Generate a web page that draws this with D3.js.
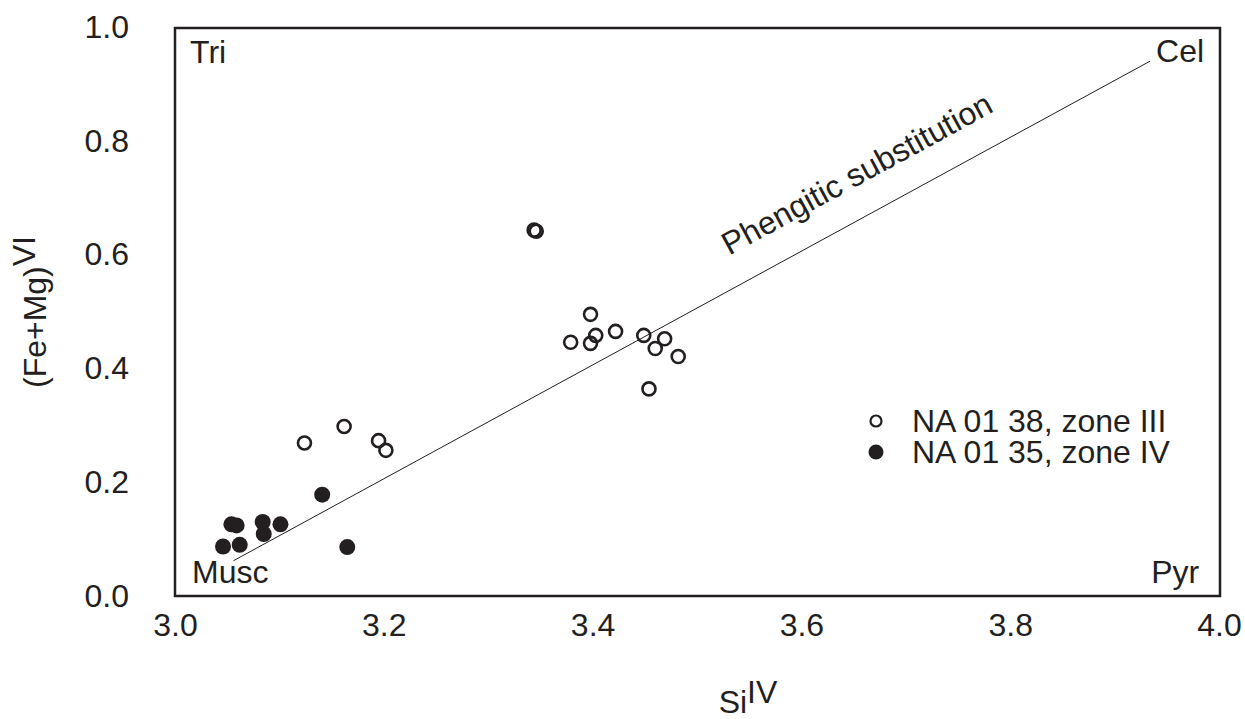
<!DOCTYPE html>
<html>
<head>
<meta charset="utf-8">
<title>Phengitic substitution</title>
<script src="https://cdn.jsdelivr.net/npm/d3@7"></script>
<style>
  body { margin: 0; background: #fff; }
  text { font-family: "Liberation Sans", Arial, sans-serif; fill: #231f20; }
</style>
</head>
<body>
<div id="chart"></div>
<script>

// data
var xTicks = [3.0, 3.2, 3.4, 3.6, 3.8, 4.0];
var yTicks = [0.0, 0.2, 0.4, 0.6, 0.8, 1.0];

// NA 01 38, zone III (open)
var openSi   = [3.124, 3.162, 3.195, 3.202, 3.344, 3.346, 3.398, 3.379, 3.398, 3.403, 3.422, 3.449, 3.469, 3.460, 3.482, 3.454];
var openFeMg = [0.269, 0.298, 0.273, 0.256, 0.643, 0.641, 0.495, 0.446, 0.444, 0.458, 0.465, 0.458, 0.452, 0.435, 0.421, 0.364];

// NA 01 35, zone IV (filled)
var filledSi   = [3.054, 3.059, 3.046, 3.062, 3.084, 3.085, 3.101, 3.141, 3.165];
var filledFeMg = [0.126, 0.124, 0.087, 0.090, 0.130, 0.109, 0.126, 0.178, 0.086];

// Musc -> Cel substitution line
var lineSi   = [3.056, 3.934];
var lineFeMg = [0.062, 0.940];

var legendLabels = ["NA 01 38, zone III", "NA 01 35, zone IV"];

var W = 1245, H = 719;
var ink = "#231f20";
var fs = "32px";

var svg = d3.select("#chart").append("svg")
    .attr("width", W)
    .attr("height", H);

var x = d3.scaleLinear().domain([3.0, 4.0]).range([175, 1219]);
var y = d3.scaleLinear().domain([0, 1.0]).range([596, 27]);

// frame
svg.append("rect")
    .attr("x", x(3.0))
    .attr("y", y(1.0) + 1)
    .attr("width", x(4.0) - x(3.0) + 1)
    .attr("height", y(0) - y(1.0) - 1)
    .attr("fill", "none")
    .attr("stroke", ink)
    .attr("stroke-width", 2.5);

// axes, labels only
var xAxis = svg.append("g")
    .attr("transform", "translate(0,610)")
    .call(d3.axisBottom(x).tickValues(xTicks).tickSize(0).tickFormat(d3.format(".1f")));
xAxis.select(".domain").remove();
xAxis.selectAll("text")
    .attr("dy", "0.71em")
    .style("font-size", fs)
    .style("font-family", "Liberation Sans, Arial, sans-serif")
    .attr("fill", ink);

var yAxis = svg.append("g")
    .attr("transform", "translate(129,0)")
    .call(d3.axisLeft(y).tickValues(yTicks).tickSize(0).tickFormat(d3.format(".1f")));
yAxis.select(".domain").remove();
yAxis.selectAll("text")
    .attr("x", 0)
    .style("font-size", fs)
    .style("font-family", "Liberation Sans, Arial, sans-serif")
    .attr("fill", ink);

// axis titles
var xt = svg.append("text")
    .attr("x", 748).attr("y", 713)
    .attr("text-anchor", "middle")
    .style("font-size", fs);
xt.append("tspan").text("Si");
xt.append("tspan").attr("dy", -10).text("IV");

var yt = svg.append("text")
    .attr("transform", "translate(46,312) rotate(-90)")
    .attr("text-anchor", "middle")
    .style("font-size", fs);
yt.append("tspan").text("(Fe+Mg)");
yt.append("tspan").attr("dy", -11).text("VI");

// substitution line
svg.append("line")
    .attr("x1", x(lineSi[0])).attr("y1", y(lineFeMg[0]))
    .attr("x2", x(lineSi[1])).attr("y2", y(lineFeMg[1]))
    .attr("stroke", ink)
    .attr("stroke-width", 1);

var ang = Math.atan2(y(lineFeMg[1]) - y(lineFeMg[0]), x(lineSi[1]) - x(lineSi[0])) * 180 / Math.PI;
svg.append("text")
    .attr("transform", "translate(" + x(3.531) + "," + y(0.598) + ") rotate(" + ang + ")")
    .style("font-size", fs)
    .text("Phengitic substitution");

// end-member labels
svg.append("text").attr("x", x(3.0144)).attr("y", y(0.937)).style("font-size", fs).text("Tri");
svg.append("text").attr("x", x(3.9397)).attr("y", y(0.938)).style("font-size", fs).text("Cel");
svg.append("text").attr("x", x(3.0163)).attr("y", y(0.023)).style("font-size", fs).text("Musc");
svg.append("text").attr("x", x(3.981)).attr("y", y(0.023)).attr("text-anchor", "end").style("font-size", fs).text("Pyr");

// points
svg.append("g").selectAll("circle")
    .data(d3.zip(openSi, openFeMg))
    .enter().append("circle")
    .attr("cx", function(d) { return x(d[0]); })
    .attr("cy", function(d) { return y(d[1]); })
    .attr("r", 6.5)
    .attr("fill", "none")
    .attr("stroke", ink)
    .attr("stroke-width", 2.6);

svg.append("g").selectAll("circle")
    .data(d3.zip(filledSi, filledFeMg))
    .enter().append("circle")
    .attr("cx", function(d) { return x(d[0]); })
    .attr("cy", function(d) { return y(d[1]); })
    .attr("r", 8)
    .attr("fill", ink);

// legend
var lg = svg.append("g").attr("transform", "translate(876,421)");
lg.append("circle").attr("cx", 0).attr("cy", 0).attr("r", 5.5)
    .attr("fill", "none").attr("stroke", ink).attr("stroke-width", 2.2);
lg.append("circle").attr("cx", 0).attr("cy", 31).attr("r", 7.5).attr("fill", ink);
lg.selectAll("text.lab")
    .data(legendLabels)
    .enter().append("text")
    .attr("class", "lab")
    .attr("x", 36)
    .attr("y", function(d, i) { return 11 + i * 31; })
    .style("font-size", fs)
    .text(function(d) { return d; });

</script>
</body>
</html>
